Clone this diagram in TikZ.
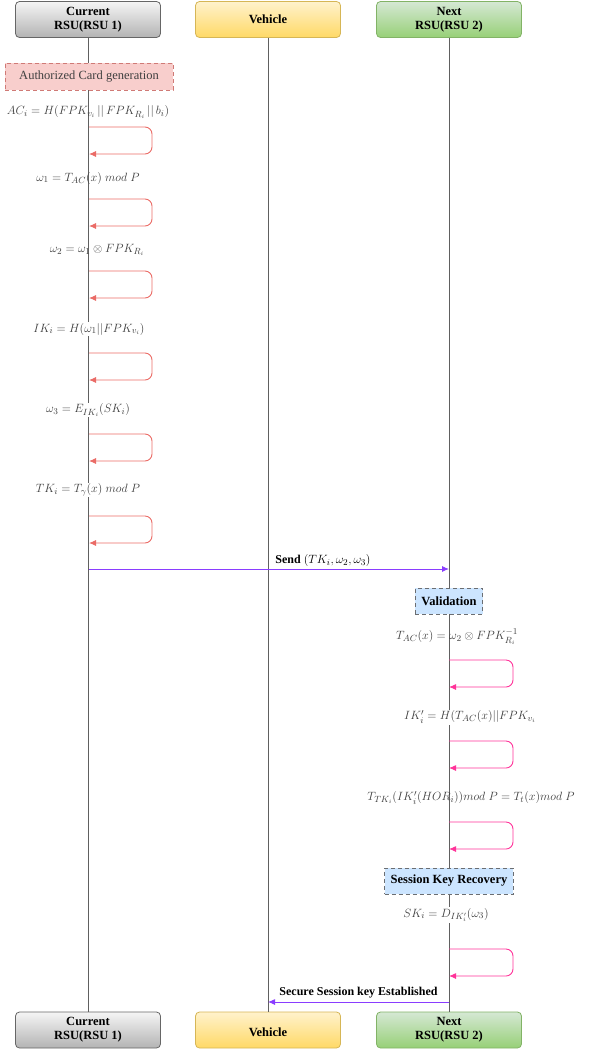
\documentclass[tikz,border=0pt]{standalone}
\usepackage{fontspec}
\setmainfont{Liberation Serif}
\usepackage{amsmath}
\usepackage{amssymb}
\usetikzlibrary{arrows.meta}
\definecolor{curTop}{HTML}{F5F5F5}
\definecolor{curBot}{HTML}{B3B3B3}
\definecolor{curLine}{HTML}{666666}
\definecolor{vehTop}{HTML}{FFF2CC}
\definecolor{vehBot}{HTML}{FFD966}
\definecolor{vehLine}{HTML}{D6B656}
\definecolor{nxtTop}{HTML}{D5E8D4}
\definecolor{nxtBot}{HTML}{97D077}
\definecolor{nxtLine}{HTML}{82B366}
\definecolor{cardFill}{HTML}{F8CECC}
\definecolor{cardLine}{HTML}{D07A76}
\definecolor{phaseFill}{HTML}{CCE5FF}
\definecolor{phaseLine}{HTML}{6B6E72}
\definecolor{eqText}{HTML}{404040}
\definecolor{lineGray}{HTML}{606060}
\definecolor{loopRed}{HTML}{EA6B66}
\definecolor{loopPink}{HTML}{FF3399}
\definecolor{msgPurple}{HTML}{8A3DFF}
\newcommand{\cc}{\,||\,}

\begin{document}
\begin{tikzpicture}[x=1pt, y=-1pt, font=\fontsize{12}{14}\selectfont,
    actor/.style={draw, line width=0.8pt, rounded corners=4pt, minimum width=145pt,
        minimum height=36pt, align=center, font=\fontsize{12.5}{14}\selectfont\bfseries},
    phase/.style={draw=phaseLine, fill=phaseFill, line width=1pt, dash pattern=on 4pt off 3pt,
        minimum height=26pt, inner xsep=6pt, font=\fontsize{12.5}{14}\selectfont\bfseries},
    eq/.style={text=eqText, inner sep=1pt, font=\fontsize{13}{15}\selectfont},
    lifeline/.style={draw=lineGray, line width=1pt},
    selfloop/.style={rounded corners=7pt, line width=0.9pt, -{Latex[length=7pt, width=6pt]}},
    msg/.style={draw=msgPurple, line width=0.9pt, -{Latex[length=7pt, width=6pt]}}]
    \useasboundingbox (0,0) rectangle (591,1050);

    % participants
    \node (cur) [actor, top color=curTop, bottom color=curBot, draw=curLine] at (88,19.5) {Current\\RSU(RSU 1)};
    \node (veh) [actor, top color=vehTop, bottom color=vehBot, draw=vehLine] at (268,19.5) {Vehicle};
    \node (nxt) [actor, top color=nxtTop, bottom color=nxtBot, draw=nxtLine] at (449,19.5) {Next\\RSU(RSU 2)};
    \node (curB) [actor, top color=curTop, bottom color=curBot, draw=curLine] at (88,1030) {Current\\RSU(RSU 1)};
    \node (vehB) [actor, top color=vehTop, bottom color=vehBot, draw=vehLine] at (268,1030) {\\Vehicle};
    \node (nxtB) [actor, top color=nxtTop, bottom color=nxtBot, draw=nxtLine] at (449,1030) {Next\\RSU(RSU 2)};

    \draw[lifeline] (cur.south) -- (curB.north);
    \draw[lifeline] (veh.south) -- (vehB.north);
    \draw[lifeline] (nxt.south) -- (nxtB.north);

    % RSU 1 side
    \node (card) [draw=cardLine, fill=cardFill, line width=1pt, dash pattern=on 4pt off 3pt,
        minimum width=168pt, minimum height=27pt, text=eqText, font=\fontsize{12.5}{14}\selectfont] at (89,76.5) {Authorized Card generation};
    \node (ac) [eq] at (88,112) {$AC_i = H(FPK_{v_i} \cc FPK_{R_i} \cc b_i)$};
    \node (w1) [eq] at (88,178) {$\omega_1 = T_{AC}(x)\ mod\ P$};
    \node (w2) [eq] at (97,250) {$\omega_2 = \omega_1 \otimes FPK_{R_i}$};
    \node (ik) [eq, fill=white] at (89,329) {$IK_i = H(\omega_1||FPK_{v_i})$};
    \node (w3) [eq, fill=white] at (88,410) {$\omega_3 = E_{IK_i}(SK_i)$};
    \node (tk) [eq, fill=white] at (88,490) {$TK_i = T_\gamma(x)\ mod\ P$};

    \foreach \y [count=\i] in {127,199,271,353,434,516} {
        \coordinate (la\i) at (89,\y);
        \coordinate (lb\i) at (89,\y+27);
        \draw[selfloop, draw=loopRed] (la\i) -- ++(63,0) |- (lb\i);
    }

    % messages
    \coordinate (send1) at (89,569);
    \coordinate (send2) at (449,569);
    \draw[msg] (send1) -- (send2) node[pos=0.65, above, inner sep=2pt] {\textbf{Send} \fontsize{13}{15}\selectfont$(TK_i, \omega_2, \omega_3)$};

    % RSU 2 side
    \node (valid) [phase] at (449,601) {Validation};
    \node (tac) [eq] at (457,637) {$T_{AC}(x) = \omega_2 \otimes FPK_{R_i}^{-1}$};
    \node (ikp) [eq, fill=white] at (470,717) {$IK_i' = H(T_{AC}(x)||FPK_{v_i}$};
    \node (ttk) [eq] at (471,798) {$T_{TK_i}(IK_i'(HOR_i))mod\ P = T_t(x)mod\ P$};
    \node (skr) [phase] at (449,881) {Session Key Recovery};
    \node (sk) [eq, fill=white] at (446,915) {$SK_i = D_{IK_i'}(\omega_3)$};

    \foreach \y [count=\i] in {660,741,822,949} {
        \coordinate (ra\i) at (449,\y);
        \coordinate (rb\i) at (449,\y+27);
        \draw[selfloop, draw=loopPink] (ra\i) -- ++(64,0) |- (rb\i);
    }

    \coordinate (ret1) at (449,1002);
    \coordinate (ret2) at (268,1002);
    \draw[msg] (ret1) -- (ret2) node[midway, above, inner sep=3pt, font=\fontsize{12}{14}\selectfont\bfseries] {Secure Session key Established};
\end{tikzpicture}
\end{document}
